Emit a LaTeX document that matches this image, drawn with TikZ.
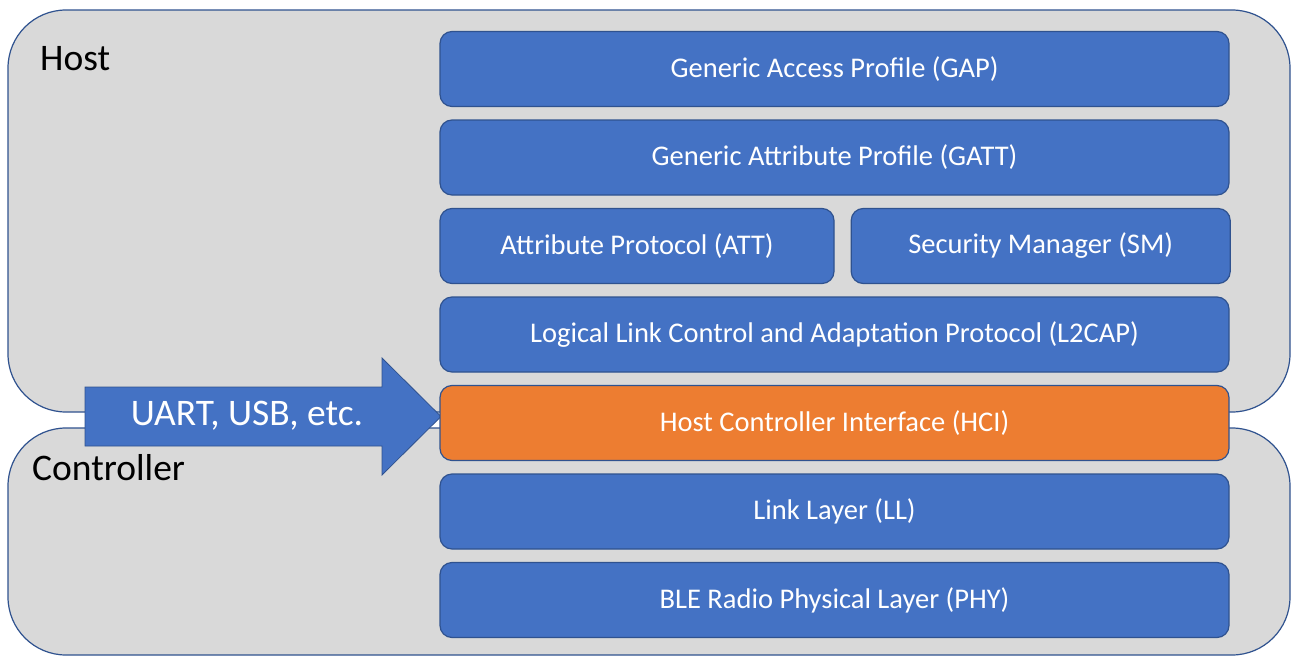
\documentclass[tikz,border=0pt]{standalone}
\usepackage{fontspec}
\setmainfont{Carlito}
\usetikzlibrary{positioning}

\definecolor{layerblue}{HTML}{4472C4}
\definecolor{layeredge}{HTML}{2F528F}
\definecolor{hciorange}{HTML}{ED7D31}
\definecolor{panelgray}{HTML}{D9D9D9}

\begin{document}
\begin{tikzpicture}[
    x=1pt, y=-1pt, node distance=12.3pt,
    panel/.style={draw=layeredge, fill=panelgray, line width=1.2pt, rounded corners=58pt},
    layer/.style={draw=layeredge, fill=layerblue, line width=1.2pt, rounded corners=12pt,
        text=white, font=\fontsize{28.5}{32}\selectfont, inner sep=0pt,
        minimum width=789pt, minimum height=75pt},
    paneltext/.style={anchor=base west, inner sep=0pt, font=\fontsize{37.5}{42}\selectfont}
]
    \useasboundingbox (0,0) rectangle (1294,656);

    % Host and Controller panels
    \draw[panel] (8,10) rectangle (1290,412);
    \draw[panel] (8,428) rectangle (1290,655);
    \node[paneltext] (HOST) at (40,70) {Host};
    \node[paneltext] (CTRL) at (32,480) {Controller};

    % Transport arrow
    \draw[fill=layerblue, draw=layeredge, line width=0.8pt]
        (85,387) -- (382,387) -- (382,358) -- (441,416.5)
        -- (382,475) -- (382,446) -- (85,446) -- cycle;
    \node[text=white, font=\fontsize{37.5}{42}\selectfont] (UART) at (247,416) {UART, USB, etc.};

    % Host Layers
    \node[layer] (GAP) at (834.5,69) {Generic Access Profile (GAP)};
    \node[layer, below=of GAP] (GATT) {Generic Attribute Profile (GATT)};
    \node[layer, below=of GATT.south west, anchor=north west, minimum width=394pt] (ATT) {Attribute Protocol (ATT)};
    \node[layer, right=16pt of ATT, minimum width=379pt] (SM) {Security Manager (SM)};
    \node[layer, below=of ATT.south west, anchor=north west] (L2CAP) {Logical Link Control and Adaptation Protocol (L2CAP)};

    % Interface
    \node[layer, below=of L2CAP, fill=hciorange] (HCI) {Host Controller Interface (HCI)};

    % Controller Layers
    \node[layer, below=of HCI] (LL) {Link Layer (LL)};
    \node[layer, below=of LL] (PHY) {BLE Radio Physical Layer (PHY)};

\end{tikzpicture}
\end{document}
